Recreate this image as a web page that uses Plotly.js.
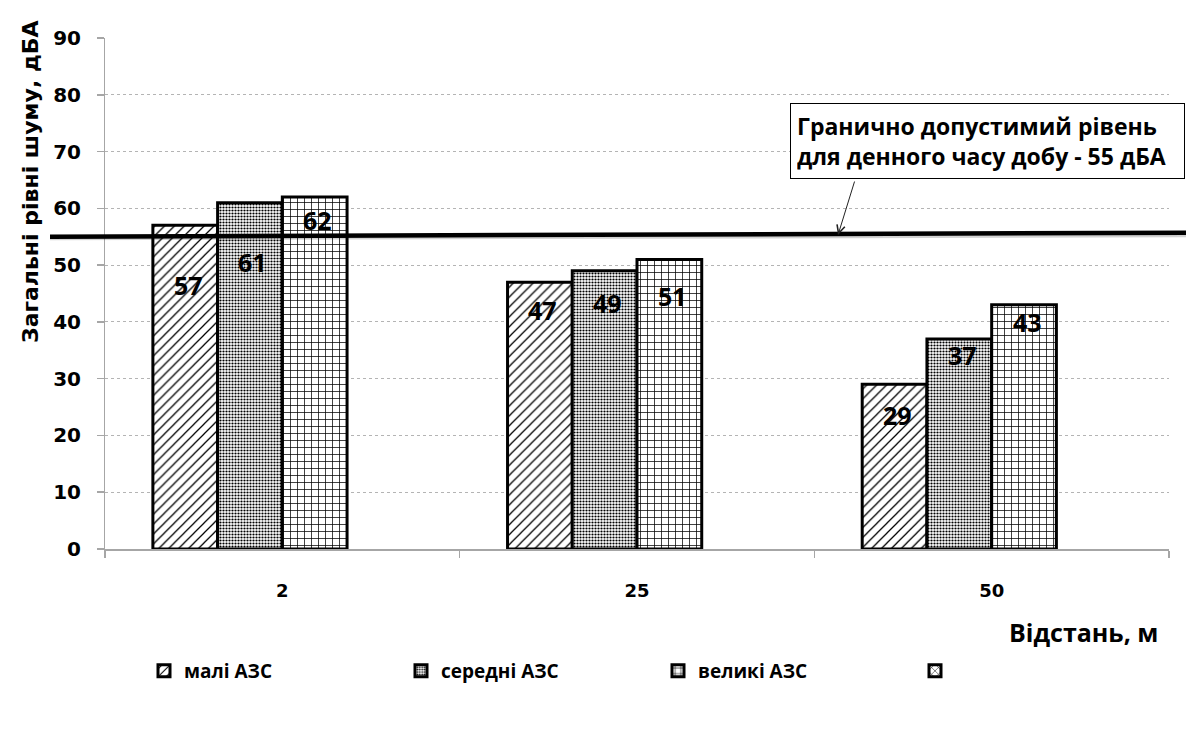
<!DOCTYPE html>
<html>
<head>
<meta charset="utf-8">
<script src="https://cdn.plot.ly/plotly-3.0.1.min.js"></script>
<style>
  html, body { margin: 0; padding: 0; background: #fff; }
  #chart { width: 1190px; height: 729px; }
</style>
</head>
<body>
<div id="chart"></div>
<script>
// Distance from the filling station, m
const distances = ['2', '25', '50'];

// Total noise levels, dBA
const smallStations  = [57, 47, 29];
const mediumStations = [61, 49, 37];
const largeStations  = [62, 51, 43];
const extraSeries    = [null, null, null];

const seriesNames = ['малі АЗС', 'середні АЗС', 'великі АЗС', ' '];

// Permitted daytime level, dBA
const dayLimit = 55;

// Noise level scale, dBA
const levelRange = [0, 90];
const levelStep = 10;

const boldText = "'Open Sans', 'Noto Sans', sans-serif";
const tickText = "'DejaVu Sans', sans-serif";

const seriesValues = [smallStations, mediumStations, largeStations, extraSeries];
const patterns = [
  { shape: '/', size: 7, solidity: 0.18 },
  { shape: '.', size: 3, solidity: 0.42 },
  { shape: '+', size: 7, solidity: 0.2 },
  { shape: 'x', size: 6, solidity: 0.2 }
];

const traces = seriesValues.map((vals, i) => ({
  type: 'bar',
  name: seriesNames[i],
  x: distances,
  y: vals,
  marker: {
    color: 'white',
    line: { color: 'black', width: 3 },
    pattern: Object.assign({ fgcolor: 'black', bgcolor: 'white' }, patterns[i])
  },
  hoverinfo: 'x+y+name'
}));

// empty helper trace that carries the labelled copy of the level axis
traces.push({
  type: 'scatter', mode: 'markers',
  x: [], y: [],
  yaxis: 'y2',
  showlegend: false, hoverinfo: 'skip'
});

// pixel geometry of the grouped bars
const W = 1190, H = 729;
const plotLeft = 105, plotRight = 1169, plotTop = 38, plotBottom = 549;
const bargap = 0.27;
const catPx = (plotRight - plotLeft) / distances.length;
const barPx = catPx * (1 - bargap) / seriesValues.length;

// how far each value label sits below its bar top, px
const labelDrop = [
  [60, 28, 31],
  [59, 32, 16],
  [23, 37, 17]
];

const annotations = [];
[smallStations, mediumStations, largeStations].forEach((vals, i) => {
  vals.forEach((v, j) => {
    annotations.push({
      x: j, xref: 'x',               // category index
      y: v, yref: 'y',
      xshift: (i - 1.5) * barPx + 3,
      yshift: -labelDrop[i][j],
      yanchor: 'middle',
      text: String(v),
      showarrow: false,
      font: { family: boldText, size: 25, weight: 700, color: 'black' }
    });
  });
});

const px2xp = px => (px - plotLeft) / (plotRight - plotLeft);
const px2yp = py => (plotBottom - py) / (plotBottom - plotTop);

// callout for the limit line
annotations.push({
  xref: 'paper', yref: 'paper',
  x: px2xp(790), y: px2yp(103),
  xanchor: 'left', yanchor: 'top',
  text: 'Гранично допустимий рівень<br>для денного часу добу - ' + dayLimit + ' дБА',
  align: 'left',
  width: 381, height: 62,
  borderpad: 6,
  bordercolor: 'black', borderwidth: 1,
  bgcolor: 'white',
  showarrow: false,
  font: { family: boldText, size: 23, weight: 700, color: 'black' }
});
annotations.push({
  xref: 'paper', yref: 'y',
  x: px2xp(838), y: dayLimit + 0.3,
  text: '',
  showarrow: true,
  arrowhead: 5, arrowsize: 1.6, arrowwidth: 1, arrowcolor: '#222',
  ax: 17, ay: -55, standoff: 0
});

// axis titles
annotations.push({
  xref: 'paper', yref: 'paper',
  x: px2xp(30), y: px2yp(182),
  xanchor: 'center', yanchor: 'middle',
  textangle: -90,
  text: 'Загальні рівні шуму, дБА',
  showarrow: false,
  font: { family: tickText, size: 22, weight: 700, color: 'black' }
});
annotations.push({
  xref: 'paper', yref: 'paper',
  x: px2xp(1160), y: px2yp(632),
  xanchor: 'right', yanchor: 'middle',
  text: 'Відстань, м',
  showarrow: false,
  font: { family: boldText, size: 25, weight: 700, color: 'black' }
});

const layout = {
  width: W, height: H,
  paper_bgcolor: 'white', plot_bgcolor: 'white',
  margin: { l: plotLeft, r: W - plotRight, t: plotTop, b: H - plotBottom, pad: 0, autoexpand: false },
  barmode: 'group',
  bargap: bargap,
  bargroupgap: 0,
  showlegend: true,
  legend: {
    orientation: 'h',
    xref: 'container', yref: 'container',
    x: 144 / W, y: (H - 652) / H,
    xanchor: 'left', yanchor: 'top',
    entrywidth: 212, entrywidthmode: 'pixels',
    itemwidth: 30,
    font: { family: boldText, size: 19, weight: 700, color: 'black' },
    traceorder: 'normal'
  },
  xaxis: {
    type: 'category',
    range: [-0.5, distances.length - 0.5],
    showline: true, linecolor: '#a6a6a6', linewidth: 1.5,
    ticks: 'outside', tickson: 'boundaries', ticklen: 7, tickcolor: '#a6a6a6', tickwidth: 1.5,
    ticklabelstandoff: 25,
    tickangle: 0,
    tickfont: { family: tickText, size: 18, weight: 700, color: 'black' },
    showgrid: false, zeroline: false,
    fixedrange: true
  },
  // gridlines, axis line and short tick marks
  yaxis: {
    range: levelRange, dtick: levelStep,
    showline: true, linecolor: '#a6a6a6', linewidth: 1.5,
    ticks: 'outside', ticklen: 7, tickcolor: '#a6a6a6', tickwidth: 1.5,
    showticklabels: false,
    showgrid: true, gridcolor: '#b4b4b4', griddash: 'dot', gridwidth: 1,
    zeroline: false,
    fixedrange: true
  },
  // tick labels, set further out from the axis line
  yaxis2: {
    overlaying: 'y', side: 'left',
    range: levelRange, dtick: levelStep,
    showline: false, showgrid: false, zeroline: false,
    ticks: 'outside', ticklen: 19, tickcolor: 'rgba(0,0,0,0)',
    tickfont: { family: tickText, size: 20, weight: 700, color: 'black' },
    fixedrange: true
  },
  shapes: [
    {
      type: 'line', layer: 'above',
      xref: 'paper', yref: 'y',
      x0: px2xp(50), x1: px2xp(1186),
      y0: dayLimit - 0.35, y1: dayLimit + 0.15,
      line: { color: 'rgba(0,0,0,0.18)', width: 3 }
    },
    {
      type: 'line', layer: 'above',
      xref: 'paper', yref: 'y',
      x0: px2xp(50), x1: px2xp(1186),
      y0: dayLimit, y1: dayLimit + 0.7,
      line: { color: 'black', width: 4.5 }
    }
  ],
  annotations: annotations
};

Plotly.newPlot('chart', traces, layout, { displayModeBar: false, staticPlot: true });
</script>
</body>
</html>
